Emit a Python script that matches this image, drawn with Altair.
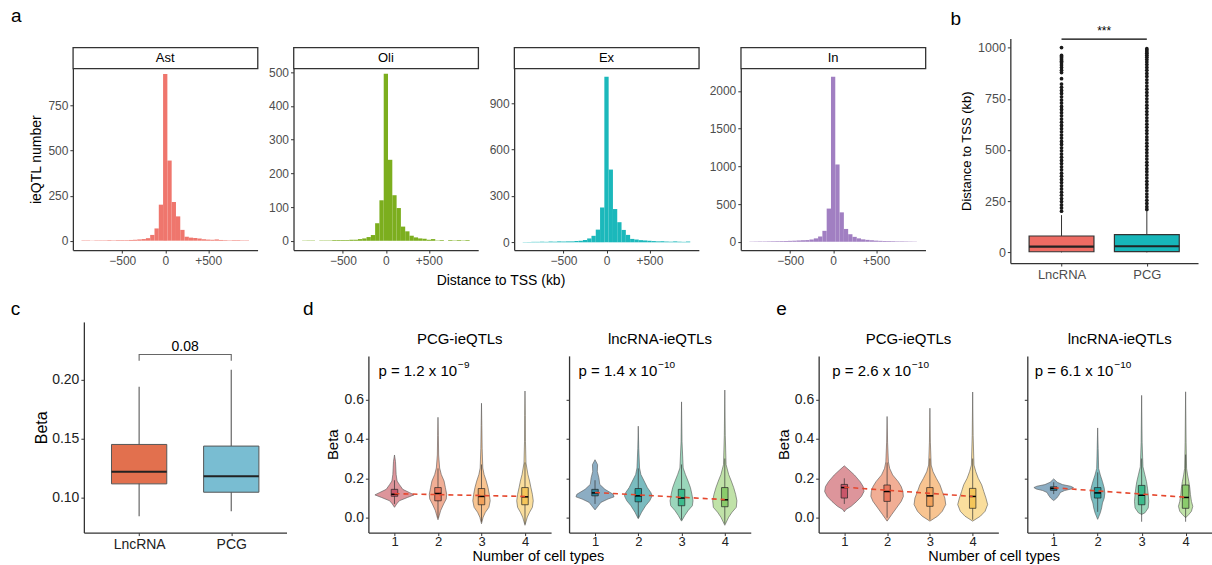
import altair as alt
import pandas as pd

FONT = "Liberation Sans"
DARK = "#333333"
GREY = "#4D4D4D"

# ---------------- panel a : histograms ----------------
bin_centers = [-950, -900, -850, -800, -750, -700, -650, -600, -550, -500,
               -450, -400, -350, -300, -250, -200, -150, -100, -50, 0,
               50, 100, 150, 200, 250, 300, 350, 400, 450, 500,
               550, 600, 650, 700, 750, 800, 850, 900, 950]
ast_counts = [2, 2, 1, 2, 2, 2, 3, 2, 3, 3,
              3, 4, 5, 7, 9, 14, 32, 68, 200, 925,
              445, 215, 135, 60, 22, 17, 15, 12, 8, 6,
              5, 7, 4, 3, 2, 3, 3, 2, 2]
oli_counts = [1, 1, 1, 0, 1, 1, 1, 2, 2, 2,
              2, 3, 3, 5, 7, 11, 17, 52, 120, 495,
              240, 135, 97, 42, 28, 15, 10, 7, 6, 3,
              5, 1, 2, 0, 2, 1, 2, 1, 2]
ex_counts = [2, 2, 3, 3, 4, 3, 5, 4, 6, 5,
             6, 6, 8, 10, 15, 25, 42, 82, 225, 1070,
             470, 215, 130, 80, 48, 22, 18, 14, 12, 10,
             8, 6, 7, 5, 4, 6, 4, 3, 5]
in_counts = [3, 4, 5, 5, 6, 7, 8, 9, 10, 12,
             14, 17, 20, 22, 30, 45, 70, 145, 440, 2190,
             1025, 390, 170, 100, 65, 45, 32, 25, 20, 15,
             12, 10, 9, 8, 6, 6, 5, 4, 3]
cell_names = ["Ast", "Oli", "Ex", "In"]
cell_colors = ["#EF766D", "#7CAE1E", "#1BB8BB", "#A17FC2"]

# ---------------- panel b ----------------
b_groups = ["LncRNA", "PCG"]
b_lower = [0, 0]
b_q1 = [3, 4]
b_med = [28, 30]
b_q3 = [80, 87]
b_upper = [182, 205]
b_out_lnc = [1000, 962, 956, 949, 941, 934, 926, 915, 903, 889, 878, 848, 822, 806,
             791, 776, 760, 744, 729, 713, 698, 682, 667, 651, 636, 620, 604, 589,
             573, 558, 542, 527, 511, 496, 480, 465, 449, 434, 418, 403, 387, 372,
             356, 341, 325, 310, 294, 279, 263, 248, 232, 217, 201]
b_out_pcg = [995, 988, 980, 972, 963, 953, 942, 930, 917, 903, 889, 874, 859, 843,
             828, 812, 797, 781, 766, 750, 735, 719, 704, 688, 673, 657, 642, 626,
             611, 595, 580, 564, 549, 533, 518, 502, 487, 471, 456, 440, 425, 409,
             394, 378, 363, 347, 332, 316, 301, 285, 270, 254, 239, 223, 210]
b_sig_label = "***"
b_colors = ["#EE6B63", "#17B6B9"]

# ---------------- panel c ----------------
c_groups = ["LncRNA", "PCG"]
c_lower = [0.0838, 0.0881]
c_q1 = [0.1114, 0.1043]
c_med = [0.1218, 0.1179]
c_q3 = [0.1449, 0.1435]
c_upper = [0.194, 0.2083]
c_p_label = "0.08"
c_colors = ["#E2704E", "#79BDD2"]

# ---------------- panels d / e : violins ----------------
d_pcg_beta = [
    [0.053, 0.070, 0.086, 0.103, 0.116, 0.128, 0.144, 0.169, 0.186, 0.219, 0.285, 0.318],
    [-0.010, 0.012, 0.036, 0.070, 0.095, 0.119, 0.153, 0.186, 0.219, 0.252, 0.318, 0.418, 0.509],
    [-0.030, 0.003, 0.028, 0.053, 0.086, 0.119, 0.153, 0.186, 0.219, 0.252, 0.352, 0.468, 0.580],
    [-0.038, 0.003, 0.028, 0.053, 0.086, 0.119, 0.153, 0.186, 0.219, 0.277, 0.385, 0.517, 0.642]]
d_pcg_hw = [
    [0.0, 0.05, 0.11, 0.30, 0.45, 0.34, 0.19, 0.11, 0.06, 0.038, 0.023, 0.0],
    [0.0, 0.03, 0.06, 0.13, 0.19, 0.20, 0.17, 0.14, 0.076, 0.038, 0.015, 0.008, 0.0],
    [0.0, 0.038, 0.09, 0.17, 0.20, 0.18, 0.15, 0.11, 0.06, 0.03, 0.015, 0.008, 0.0],
    [0.0, 0.053, 0.106, 0.17, 0.19, 0.17, 0.136, 0.106, 0.068, 0.023, 0.011, 0.008, 0.0]]
d_lnc_beta = [
    [0.040, 0.061, 0.078, 0.095, 0.106, 0.119, 0.144, 0.169, 0.202, 0.235, 0.269, 0.294],
    [-0.005, 0.028, 0.061, 0.086, 0.111, 0.128, 0.153, 0.186, 0.219, 0.252, 0.352, 0.464],
    [-0.017, 0.012, 0.036, 0.061, 0.086, 0.119, 0.153, 0.186, 0.219, 0.252, 0.385, 0.587],
    [-0.038, 0.003, 0.028, 0.053, 0.086, 0.119, 0.153, 0.186, 0.219, 0.269, 0.418, 0.647]]
d_lnc_hw = [
    [0.0, 0.076, 0.136, 0.30, 0.44, 0.42, 0.23, 0.11, 0.09, 0.053, 0.06, 0.0],
    [0.0, 0.076, 0.17, 0.265, 0.32, 0.29, 0.21, 0.136, 0.06, 0.03, 0.011, 0.0],
    [0.0, 0.076, 0.15, 0.25, 0.265, 0.24, 0.205, 0.15, 0.09, 0.038, 0.011, 0.0],
    [0.0, 0.09, 0.167, 0.265, 0.28, 0.25, 0.205, 0.15, 0.09, 0.03, 0.011, 0.0]]
e_pcg_beta = [
    [0.030, 0.042, 0.058, 0.083, 0.108, 0.133, 0.158, 0.183, 0.217, 0.242, 0.263],
    [-0.017, 0.017, 0.050, 0.083, 0.108, 0.133, 0.158, 0.183, 0.217, 0.250, 0.283, 0.383, 0.513],
    [-0.017, 0.008, 0.033, 0.067, 0.100, 0.133, 0.167, 0.200, 0.233, 0.267, 0.383, 0.555],
    [-0.017, 0.008, 0.033, 0.067, 0.100, 0.133, 0.167, 0.200, 0.233, 0.267, 0.417, 0.637]]
e_pcg_hw = [
    [0.0, 0.037, 0.16, 0.29, 0.40, 0.46, 0.44, 0.37, 0.235, 0.11, 0.0],
    [0.0, 0.11, 0.22, 0.33, 0.38, 0.37, 0.33, 0.26, 0.13, 0.06, 0.03, 0.011, 0.0],
    [0.0, 0.18, 0.29, 0.37, 0.35, 0.29, 0.235, 0.15, 0.074, 0.03, 0.011, 0.0],
    [0.0, 0.18, 0.29, 0.35, 0.31, 0.26, 0.21, 0.13, 0.074, 0.03, 0.011, 0.0]]
e_lnc_beta = [
    [0.087, 0.100, 0.115, 0.128, 0.138, 0.146, 0.153, 0.160, 0.168, 0.180, 0.197],
    [-0.008, 0.025, 0.050, 0.075, 0.100, 0.125, 0.150, 0.183, 0.217, 0.250, 0.350, 0.455],
    [0.017, 0.025, 0.050, 0.083, 0.117, 0.150, 0.183, 0.217, 0.258, 0.383, 0.620],
    [0.000, 0.017, 0.033, 0.058, 0.083, 0.117, 0.150, 0.183, 0.217, 0.250, 0.383, 0.638]]
e_lnc_hw = [
    [0.0, 0.07, 0.12, 0.15, 0.25, 0.40, 0.45, 0.38, 0.20, 0.08, 0.0],
    [0.0, 0.06, 0.09, 0.11, 0.15, 0.163, 0.15, 0.11, 0.06, 0.022, 0.011, 0.0],
    [0.0, 0.074, 0.15, 0.163, 0.15, 0.133, 0.11, 0.074, 0.03, 0.011, 0.0],
    [0.0, 0.074, 0.133, 0.163, 0.133, 0.11, 0.096, 0.074, 0.044, 0.022, 0.011, 0.0]]

# box stats per number of cell types 1..4
d_pcg_q1 = [0.109, 0.086, 0.066, 0.066]
d_pcg_med = [0.119, 0.123, 0.108, 0.106]
d_pcg_q3 = [0.144, 0.153, 0.148, 0.153]
d_pcg_wl = [0.07, 0.00, -0.02, -0.03]
d_pcg_wh = [0.19, 0.25, 0.27, 0.28]
d_lnc_q1 = [0.111, 0.081, 0.061, 0.056]
d_lnc_med = [0.126, 0.111, 0.100, 0.091]
d_lnc_q3 = [0.144, 0.148, 0.144, 0.153]
d_lnc_wl = [0.07, 0.00, -0.01, -0.03]
d_lnc_wh = [0.19, 0.25, 0.27, 0.30]
e_pcg_q1 = [0.100, 0.083, 0.058, 0.048]
e_pcg_med = [0.153, 0.133, 0.111, 0.108]
e_pcg_q3 = [0.169, 0.166, 0.153, 0.149]
e_pcg_wl = [0.07, 0.00, -0.01, -0.01]
e_pcg_wh = [0.20, 0.28, 0.30, 0.30]
e_lnc_q1 = [0.139, 0.100, 0.066, 0.048]
e_lnc_med = [0.149, 0.126, 0.114, 0.103]
e_lnc_q3 = [0.157, 0.153, 0.164, 0.166]
e_lnc_wl = [0.12, 0.03, -0.02, -0.02]
e_lnc_wh = [0.18, 0.23, 0.30, 0.32]

# dashed trend lines (number of cell types, beta)
trend_x = [1, 4]
d_pcg_trend = [0.122, 0.108]
d_lnc_trend = [0.128, 0.092]
e_pcg_trend = [0.155, 0.108]
e_lnc_trend = [0.152, 0.104]

# p-value annotations: mantissa text, exponent, anchor (x in cell-type units, beta)
p_base = {"d_pcg": "p = 1.2 x 10", "d_lnc": "p = 1.4 x 10",
          "e_pcg": "p = 2.6 x 10", "e_lnc": "p = 6.1 x 10"}
p_exp = {"d_pcg": "\u22129", "d_lnc": "\u221210", "e_pcg": "\u221210", "e_lnc": "\u221210"}
p_anchor_x = {"d_pcg": 0.63, "d_lnc": 0.62, "e_pcg": 0.72, "e_lnc": 0.57}
p_anchor_y = 0.745

pcg_violin_pal = ["#D98A90", "#EFA58A", "#F7BE85", "#F9DA92"]
pcg_box_pal = ["#C9566A", "#E7785E", "#F2A25B", "#F5C65A"]
lnc_violin_pal = ["#7FA4BD", "#6BB4B8", "#8FD2B4", "#B9DF9F"]
lnc_box_pal = ["#2D8199", "#1F9E9C", "#3DBB8C", "#8ACB6C"]

# Arial / Liberation Sans advance widths (1/1000 em) for placing the exponent
ARIAL_W = {"p": 556, " ": 278, "=": 584, ".": 278, "x": 500}


def text_width(s, size):
    return sum(ARIAL_W.get(ch, 556) for ch in s) * size / 1000.0


def ind(ch):
    return ch.resolve_scale(color="independent", fill="independent")


def spacer(w, h):
    return alt.Chart(pd.DataFrame({"t": [""]})).mark_text().encode(text="t:N").properties(
        width=w, height=h)


def lbl_expr(names):
    arr = ",".join("'" + n + "'" for n in names)
    return "[" + arr + "][datum.value - 1]"


def letter(t, dx, offset):
    return alt.Title(t, anchor="start", fontSize=19, fontWeight="normal", dx=dx, offset=offset)


# ---------- histogram panel ----------
def hist(name, counts, color, ydom, yticks, ytitle):
    df = pd.DataFrame({"center": bin_centers, "count": counts})
    xax = alt.Axis(values=[-500, 0, 500], title=None,
                   labelExpr="datum.value > 0 ? '+' + datum.label : datum.label")
    if ytitle:
        yax = alt.Axis(values=yticks, format="d", title=ytitle, titleFontSize=14, titlePadding=4)
    else:
        yax = alt.Axis(values=yticks, format="d", title=None)
    bars = alt.Chart(df).transform_calculate(
        lo="datum.center - 25", hi="datum.center + 25", base="0"
    ).mark_bar(color=color).encode(
        x=alt.X("lo:Q", scale=alt.Scale(domain=[-1075, 1075], nice=False, zero=False), axis=xax),
        x2="hi:Q",
        y=alt.Y("count:Q", scale=alt.Scale(domain=ydom, nice=False, zero=False), axis=yax),
        y2="base:Q",
    ).properties(width=185, height=182)
    strip = alt.Chart(pd.DataFrame({"t": [name]})).mark_text(
        fontSize=13, color="black", font=FONT
    ).encode(text="t:N").properties(
        width=185, height=21,
        view=alt.ViewBackground(stroke=DARK, strokeWidth=1.3, fill="white"))
    return alt.vconcat(spacer(185, 9), strip, bars, spacing=0, bounds="flush")


h_ast = hist(cell_names[0], ast_counts, cell_colors[0], [-52, 957], [0, 250, 500, 750], "ieQTL number")
h_oli = hist(cell_names[1], oli_counts, cell_colors[1], [-27.5, 511], [0, 100, 200, 300, 400, 500], None)
h_ex = hist(cell_names[2], ex_counts, cell_colors[2], [-50, 1124], [0, 300, 600, 900], None)
h_in = hist(cell_names[3], in_counts, cell_colors[3], [-110, 2300], [0, 500, 1000, 1500, 2000], None)

A_inner = alt.hconcat(h_ast, h_oli, h_ex, h_in, spacing=9,
                      title=alt.Title("Distance to TSS (kb)", orient="bottom", anchor="middle",
                                      fontSize=14, fontWeight="normal", offset=8, dx=23))
A = alt.hconcat(A_inner, title=letter("a", -19, 11))

# ---------- panel b ----------
b_df = pd.DataFrame({"grp": b_groups, "pos": [1, 2], "lower": b_lower, "q1": b_q1,
                     "med": b_med, "q3": b_q3, "upper": b_upper})
b_out_df = pd.DataFrame({"pos": [1] * len(b_out_lnc) + [2] * len(b_out_pcg),
                         "val": b_out_lnc + b_out_pcg})
bxs = alt.Scale(domain=[0.4, 2.6], nice=False, zero=False)
bys = alt.Scale(domain=[-52, 1045], nice=False, zero=False)
bxax = alt.Axis(values=[1, 2], labelExpr=lbl_expr(b_groups), title=None, labelFontSize=13)
byax = alt.Axis(values=[0, 250, 500, 750, 1000], format="d", title="Distance to TSS (kb)",
                titleFontSize=13, labelFontSize=12.5, titlePadding=4)
b_base = alt.Chart(b_df).transform_calculate(lo="datum.pos - 0.38", hi="datum.pos + 0.38")
b_wh = b_base.mark_rule(color=DARK, strokeWidth=1).encode(
    x=alt.X("pos:Q", scale=bxs, axis=bxax), y=alt.Y("lower:Q", scale=bys, axis=byax), y2="upper:Q")
b_box = b_base.mark_bar(stroke=DARK, strokeWidth=1.2).encode(
    x=alt.X("lo:Q", scale=bxs, axis=bxax), x2="hi:Q",
    y=alt.Y("q1:Q", scale=bys, axis=byax), y2="q3:Q",
    color=alt.Color("grp:N", scale=alt.Scale(domain=b_groups, range=b_colors), legend=None))
b_md = b_base.mark_rule(color="#222222", strokeWidth=2.2).encode(
    x=alt.X("lo:Q", scale=bxs, axis=bxax), x2="hi:Q", y=alt.Y("med:Q", scale=bys, axis=byax))
b_pts = alt.Chart(b_out_df).mark_circle(size=14, color="#1a1a1a", opacity=1).encode(
    x=alt.X("pos:Q", scale=bxs, axis=bxax), y=alt.Y("val:Q", scale=bys, axis=byax))
b_sig_df = pd.DataFrame({"x1": [1], "x2": [2], "xm": [1.5], "y": [1041], "label": [b_sig_label]})
b_sig = alt.Chart(b_sig_df).mark_rule(color="black", strokeWidth=1.2).encode(
    x=alt.X("x1:Q", scale=bxs, axis=bxax), x2="x2:Q", y=alt.Y("y:Q", scale=bys, axis=byax))
b_sig_t = alt.Chart(b_sig_df).mark_text(baseline="bottom", fontSize=12, dy=-1).encode(
    x=alt.X("xm:Q", scale=bxs, axis=bxax), y=alt.Y("y:Q", scale=bys, axis=byax), text="label:N")
B = alt.layer(b_wh, b_box, b_md, b_pts, b_sig, b_sig_t).properties(
    width=188, height=225, title=letter("b", -10, -4))

row1 = ind(alt.hconcat(spacer(1, 1), ind(alt.hconcat(A, B, spacing=24)), spacing=0))

# ---------- panel c ----------
c_df = pd.DataFrame({"grp": c_groups, "pos": [1, 2], "lower": c_lower, "q1": c_q1,
                     "med": c_med, "q3": c_q3, "upper": c_upper})
cxs = alt.Scale(domain=[0.4, 2.6], nice=False, zero=False)
cys = alt.Scale(domain=[0.07, 0.249], nice=False, zero=False)
cxax = alt.Axis(values=[1, 2], labelExpr=lbl_expr(c_groups), title=None, labelFontSize=14,
                labelColor="#222222")
cyax = alt.Axis(values=[0.10, 0.15, 0.20], format=".2f", title="Beta", titleFontSize=16,
                labelFontSize=14, labelColor="#222222", titlePadding=2)
c_base = alt.Chart(c_df).transform_calculate(lo="datum.pos - 0.3", hi="datum.pos + 0.3")
c_wh = c_base.mark_rule(color="#666666", strokeWidth=1.2).encode(
    x=alt.X("pos:Q", scale=cxs, axis=cxax), y=alt.Y("lower:Q", scale=cys, axis=cyax), y2="upper:Q")
c_box = c_base.mark_bar(stroke="#555555", strokeWidth=1).encode(
    x=alt.X("lo:Q", scale=cxs, axis=cxax), x2="hi:Q",
    y=alt.Y("q1:Q", scale=cys, axis=cyax), y2="q3:Q",
    color=alt.Color("grp:N", scale=alt.Scale(domain=c_groups, range=c_colors), legend=None))
c_md = c_base.mark_rule(color="#222222", strokeWidth=2).encode(
    x=alt.X("lo:Q", scale=cxs, axis=cxax), x2="hi:Q", y=alt.Y("med:Q", scale=cys, axis=cyax))
c_br_df = pd.DataFrame({"x": [1, 1, 2, 2], "y": [0.216, 0.2213, 0.2213, 0.216], "o": [0, 1, 2, 3]})
c_br = alt.Chart(c_br_df).mark_line(color="#666666", strokeWidth=1.1).encode(
    x=alt.X("x:Q", scale=cxs, axis=cxax), y=alt.Y("y:Q", scale=cys, axis=cyax), order="o:Q")
c_p_df = pd.DataFrame({"x": [1.5], "y": [0.2213], "label": [c_p_label]})
c_p = alt.Chart(c_p_df).mark_text(baseline="bottom", fontSize=14, dy=-1).encode(
    x=alt.X("x:Q", scale=cxs, axis=cxax), y=alt.Y("y:Q", scale=cys, axis=cyax), text="label:N")
C = alt.layer(c_wh, c_box, c_md, c_br, c_p).properties(
    width=203, height=211, title=letter("c", -23, 3))


# ---------- violin panels ----------
def violin(title, betas, hws, q1, med, q3, wl, wh, trend, key, vpal, bpal, first, width):
    rows = []
    for g in range(4):
        for b, w in zip(betas[g], hws[g]):
            rows.append({"group": g + 1, "beta": b, "hw": w})
    vdf = pd.DataFrame(rows)
    bdf = pd.DataFrame({"group": [1, 2, 3, 4], "q1": q1, "med": med, "q3": q3, "wl": wl, "wh": wh})
    tdf = pd.DataFrame({"x": trend_x, "y": trend})
    pdf = pd.DataFrame({"x": [p_anchor_x[key]], "y": [p_anchor_y],
                        "base": [p_base[key]], "exp": [p_exp[key]]})
    xs = alt.Scale(domain=[0.4, 4.6], nice=False, zero=False)
    ys = alt.Scale(domain=[-0.075, 0.82], nice=False, zero=False)
    xax = alt.Axis(values=[1, 2, 3, 4], format="d", title=None, labelFontSize=13,
                   labelColor="#222222", labelPadding=0)
    if first:
        yax = alt.Axis(values=[0, 0.2, 0.4, 0.6], format=".1f", title="Beta", titleFontSize=15,
                       labelFontSize=14, labelColor="#222222", titlePadding=3)
    else:
        yax = alt.Axis(values=[0, 0.2, 0.4, 0.6], labels=False, title=None)
    vio = alt.Chart(vdf).transform_calculate(
        left="datum.group - datum.hw", right="datum.group + datum.hw"
    ).mark_area(orient="horizontal", stroke="#555555", strokeWidth=0.6, fillOpacity=0.9).encode(
        y=alt.Y("beta:Q", scale=ys, axis=yax),
        x=alt.X("left:Q", scale=xs, axis=xax),
        x2="right:Q",
        fill=alt.Fill("group:N", scale=alt.Scale(domain=[1, 2, 3, 4], range=vpal), legend=None),
    )
    base = alt.Chart(bdf).transform_calculate(lo="datum.group - 0.075", hi="datum.group + 0.075")
    whisk = base.mark_rule(color="#333333", strokeWidth=0.7).encode(
        x=alt.X("group:Q", scale=xs, axis=xax), y=alt.Y("wl:Q", scale=ys, axis=yax), y2="wh:Q")
    box = base.mark_bar(stroke="#222222", strokeWidth=0.7).encode(
        x=alt.X("lo:Q", scale=xs, axis=xax), x2="hi:Q",
        y=alt.Y("q1:Q", scale=ys, axis=yax), y2="q3:Q",
        color=alt.Color("group:N", scale=alt.Scale(domain=[1, 2, 3, 4], range=bpal), legend=None))
    mline = base.mark_rule(color="black", strokeWidth=1.5).encode(
        x=alt.X("lo:Q", scale=xs, axis=xax), x2="hi:Q", y=alt.Y("med:Q", scale=ys, axis=yax))
    tr = alt.Chart(tdf).mark_line(color="#E5472D", strokeDash=[5, 4], strokeWidth=1.6).encode(
        x=alt.X("x:Q", scale=xs, axis=xax), y=alt.Y("y:Q", scale=ys, axis=yax))
    pt = alt.Chart(pdf).mark_text(align="left", baseline="middle", fontSize=15).encode(
        x=alt.X("x:Q", scale=xs, axis=xax), y=alt.Y("y:Q", scale=ys, axis=yax), text="base:N")
    pe = alt.Chart(pdf).mark_text(align="left", baseline="middle", fontSize=10,
                                  dx=text_width(p_base[key], 15) + 1, dy=-6).encode(
        x=alt.X("x:Q", scale=xs, axis=xax), y=alt.Y("y:Q", scale=ys, axis=yax), text="exp:N")
    plot = alt.layer(vio, whisk, box, mline, tr, pt, pe).properties(width=width, height=177)
    strip = alt.Chart(pd.DataFrame({"t": [title]})).mark_text(fontSize=15, color="black").encode(
        text="t:N").properties(width=width, height=34)
    return ind(alt.vconcat(strip, plot, spacing=0, bounds="flush"))


d1 = violin("PCG-ieQTLs", d_pcg_beta, d_pcg_hw, d_pcg_q1, d_pcg_med, d_pcg_q3, d_pcg_wl, d_pcg_wh,
            d_pcg_trend, "d_pcg", pcg_violin_pal, pcg_box_pal, True, 183)
d2 = violin("lncRNA-ieQTLs", d_lnc_beta, d_lnc_hw, d_lnc_q1, d_lnc_med, d_lnc_q3, d_lnc_wl, d_lnc_wh,
            d_lnc_trend, "d_lnc", lnc_violin_pal, lnc_box_pal, False, 182)
e1 = violin("PCG-ieQTLs", e_pcg_beta, e_pcg_hw, e_pcg_q1, e_pcg_med, e_pcg_q3, e_pcg_wl, e_pcg_wh,
            e_pcg_trend, "e_pcg", pcg_violin_pal, pcg_box_pal, True, 180)
e2 = violin("lncRNA-ieQTLs", e_lnc_beta, e_lnc_hw, e_lnc_q1, e_lnc_med, e_lnc_q3, e_lnc_wl, e_lnc_wh,
            e_lnc_trend, "e_lnc", lnc_violin_pal, lnc_box_pal, False, 185)

xt = dict(orient="bottom", anchor="middle", fontSize=14.5, fontWeight="normal", offset=1)
D = ind(alt.hconcat(ind(alt.hconcat(d1, d2, spacing=14, title=alt.Title("Number of cell types", **xt))),
                    title=letter("d", -23, 3)))
E = ind(alt.hconcat(ind(alt.hconcat(e1, e2, spacing=25, title=alt.Title("Number of cell types", **xt))),
                    title=letter("e", 0, 3)))

row2 = ind(alt.hconcat(spacer(1, 1),
                       ind(alt.hconcat(C, ind(alt.hconcat(D, E, spacing=25)), spacing=16)),
                       spacing=0))

chart = ind(alt.vconcat(row1, row2, spacing=12)).properties(
    padding={"left": 9, "top": 6, "right": 0, "bottom": 0}
).configure(font=FONT, background="white").configure_view(strokeWidth=0).configure_axis(
    grid=False, domainColor=DARK, domainWidth=1.3, tickColor=DARK, tickSize=3, tickWidth=1,
    labelColor=GREY, labelFontSize=12, labelFont=FONT, titleFont=FONT, titleColor="black",
    titleFontWeight="normal", labelPadding=2
).configure_title(font=FONT, fontWeight="normal", color="black")

chart.save("out.html", embed_options={"renderer": "svg", "actions": False})
